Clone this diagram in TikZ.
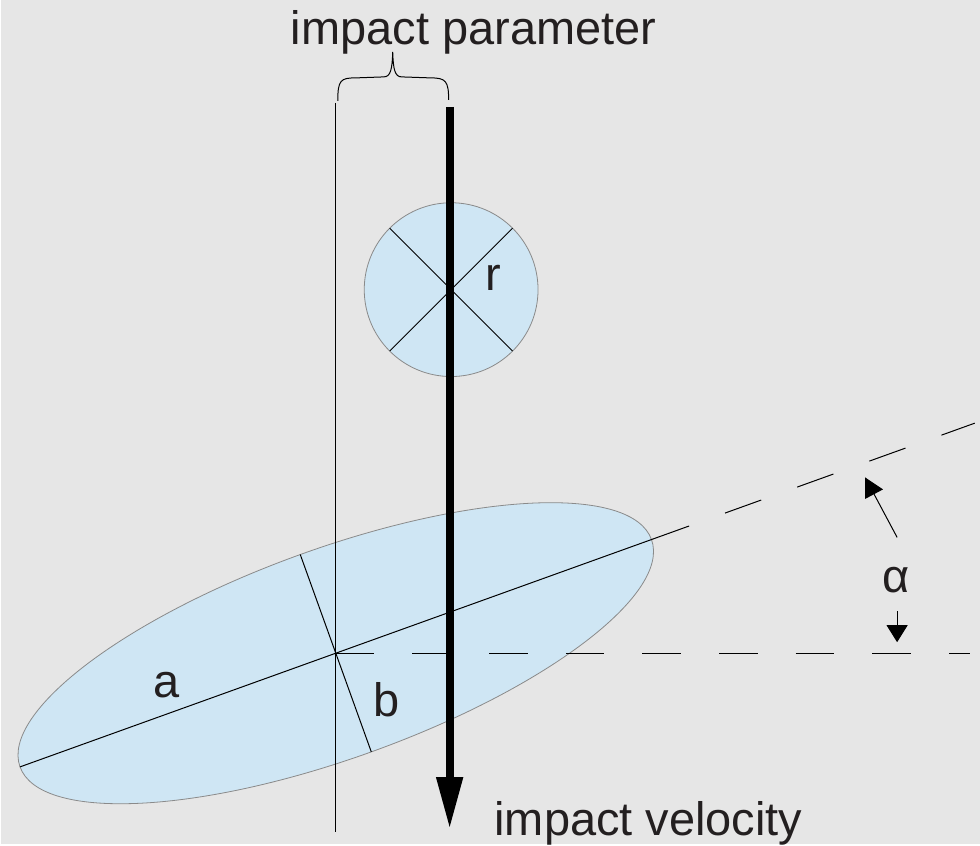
\documentclass[tikz,border=0pt]{standalone}
\usepackage{fontspec}
\setmainfont{Liberation Sans}
\usepackage{xcolor}
\usepackage{tikz}
\usetikzlibrary{arrows.meta, calc}
\definecolor{bggray}{HTML}{E6E6E6}
\definecolor{paleblue}{HTML}{CFE6F4}
\definecolor{rimgray}{HTML}{8A8A8A}
\definecolor{ink}{HTML}{231F20}

\begin{document}
\begin{tikzpicture}[x=1pt, y=1pt, line width=1pt,
        lbl/.style={font=\fontsize{47}{56}\selectfont, text=ink, inner sep=0pt, anchor=base},
        body/.style={fill=paleblue, draw=rimgray, line width=0.8pt},
        dashline/.style={dash pattern=on 38.5pt off 38.25pt}]
        % Background
        \fill[bggray] (0,0) rectangle (980,845);

        % Points
        \coordinate (C) at (335,191);
        \coordinate (axisL) at ($(C)+(199.8:336pt)$);
        \coordinate (axisR) at ($(C)+(19.8:376pt)$);
        \coordinate (axisEnd) at ($(C)+(19.8:680pt)$);
        \coordinate (minorT) at ($(C)+(109.8:105pt)$);
        \coordinate (minorB) at ($(C)+(-70.2:105pt)$);
        \coordinate (horizEnd) at (970,191);
        \coordinate (P) at (450.5,555);
        \coordinate (refTop) at (335,742);
        \coordinate (refBot) at (335,12);
        \coordinate (velTop) at (449,738);
        \coordinate (velTip) at (449,15);
        \coordinate (braceL) at (337,744);
        \coordinate (braceR) at (448,745);
        \coordinate (braceTip) at (392,793);
        \coordinate (upTail) at (897,307);
        \coordinate (upTip) at (865,367);
        \coordinate (dnTail) at (897,233);
        \coordinate (dnTip) at (897,202);

        % Target ellipse and its axes
        \draw[body, rotate around={19.8:(C)}] (C) ellipse [x radius=336pt, y radius=105pt];
        \draw (axisL) -- (axisR);
        \draw (minorT) -- (minorB);
        \draw[dashline, dash phase=38.5pt] (axisR) -- (axisEnd);
        \draw[dashline] (C) -- (horizEnd);

        % Projectile
        \draw[body] (P) circle [radius=87pt];
        \draw (P) ++(45:87pt) -- ($(P)+(225:87pt)$);
        \draw (P) ++(135:87pt) -- ($(P)+(315:87pt)$);

        % Impact parameter
        \draw (refTop) -- (refBot);
        \draw (braceL) .. controls (337,765) and (340,767) .. (355,767) -- (383,768)
            .. controls (390,768) and (391.5,776) .. (braceTip)
            .. controls (392.5,776) and (394,768) .. (401,768) -- (430,767)
            .. controls (445,767) and (448,764) .. (braceR);
        \draw[line width=8pt, -{Triangle[length=52pt, width=25pt]}] (velTop) -- (velTip);

        % Angle
        \draw[-{Triangle[length=19pt, width=20pt]}] (upTail) -- (upTip);
        \draw[-{Triangle[length=17pt, width=21pt]}] (dnTail) -- (dnTip);

        % Labels
        \node[lbl] (param) at (473,800) {impact parameter};
        \node[lbl] (vel) at (648,8) {impact velocity};
        \node[lbl] (rlbl) at (493,554) {r};
        \node[lbl] (albl) at (166,147) {a};
        \node[lbl] (blbl) at (385.5,128) {b};
        \node[lbl] (alpha) at (896,252) {α};
    \end{tikzpicture}
\end{document}
